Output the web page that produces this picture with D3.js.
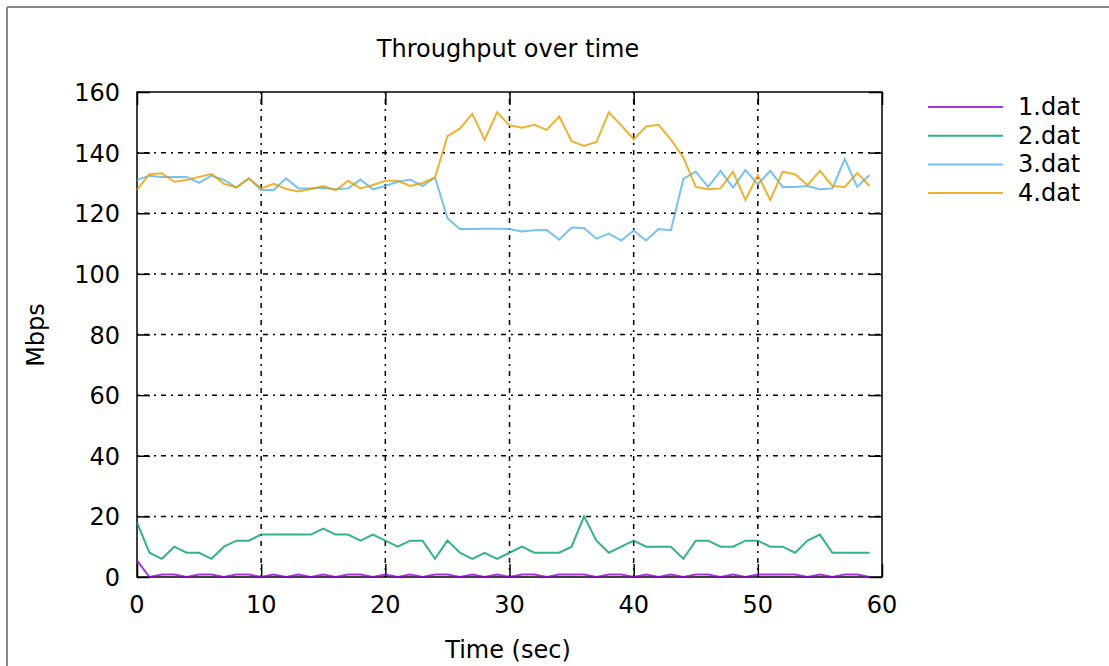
<!DOCTYPE html>
<html>
<head>
<meta charset="utf-8">
<script src="https://cdn.jsdelivr.net/npm/d3@7"></script>
<style>
  body { margin: 0; background: #fff; }
  svg { display: block; font-family: "DejaVu Sans", sans-serif; }
  .grid line { stroke: #000; stroke-width: 1.5; stroke-dasharray: 2,5,5,5; }
  .tick text { fill: #000; }
</style>
</head>
<body>
<div id="graphic"></div>
<script>
// time in seconds, one sample per second
const times = d3.range(0, 60);

const dat1 = [5.5, 0, 0.8, 0.8, 0, 0.8, 0.8, 0, 0.8, 0.8, 0, 0.8, 0, 0.8, 0, 0.8, 0, 0.8, 0.8, 0,
  0.8, 0, 0.8, 0, 0.8, 0.8, 0, 0.8, 0, 0.8, 0, 0.8, 0.8, 0, 0.8, 0.8, 0.8, 0, 0.8, 0.8,
  0, 0.8, 0, 0.8, 0, 0.8, 0.8, 0, 0.8, 0, 0.8, 0.8, 0.8, 0.8, 0, 0.8, 0, 0.8, 0.8, 0];
const dat2 = [18, 8, 6, 10, 8, 8, 6, 10, 12, 12, 14, 14, 14, 14, 14, 16, 14, 14, 12, 14,
  12, 10, 12, 12, 6, 12, 8, 6, 8, 6, 8, 10, 8, 8, 8, 10, 20, 12, 8, 10,
  12, 10, 10, 10, 6, 12, 12, 10, 10, 12, 12, 10, 10, 8, 12, 14, 8, 8, 8, 8];
const dat3 = [131, 132.4, 132, 132, 132, 130, 132.4, 131, 128.5, 131.5, 127.7, 127.7, 131.5, 128.2, 128.2, 128.4, 127.9, 128.2, 131.1, 127.9,
  129, 130.4, 131.1, 129, 131.8, 118.4, 114.8, 114.8, 114.9, 114.9, 114.8, 114, 114.4, 114.5, 111.3, 115.3, 115.1, 111.6, 113.3, 111,
  114.3, 111, 114.8, 114.4, 131.3, 133.7, 128.7, 134, 128.5, 134.2, 129.6, 134, 128.7, 128.7, 129, 127.9, 128.2, 137.9, 128.7, 132.6];
const dat4 = [127.7, 132.9, 133.2, 130.4, 131, 132, 132.9, 129.7, 128.5, 131.5, 128.2, 129.7, 128, 127.2, 128, 129, 127.6, 130.7, 128.2, 129.3,
  130.7, 130.7, 129, 130, 131.8, 145.4, 147.9, 152.8, 144.3, 153.3, 149, 148.2, 149.2, 147.5, 152, 143.8, 142.2, 143.5, 153.3, 149,
  144.4, 148.6, 149.2, 144.3, 138.4, 128.7, 127.9, 128.2, 133.7, 124.4, 132.6, 124.4, 133.7, 132.9, 129.3, 134, 129, 128.7, 133.3, 129];

const seriesNames = ['1.dat', '2.dat', '3.dat', '4.dat'];
const seriesColors = ['#9400d3', '#009e73', '#56b4e9', '#e69f00'];
const seriesValues = [dat1, dat2, dat3, dat4];

const xTicks = [0, 10, 20, 30, 40, 50, 60];
const yTicks = [0, 20, 40, 60, 80, 100, 120, 140, 160];

const width = 1109, height = 666;
const margin = { top: 92, right: 227, bottom: 89, left: 137 };
const innerW = width - margin.left - margin.right;
const innerH = height - margin.top - margin.bottom;
const fontSize = 24;

const svg = d3.select('#graphic').append('svg')
  .attr('width', width)
  .attr('height', height);

// outer frame (only top and left edges visible)
svg.append('line').attr('x1', 7).attr('x2', width).attr('y1', 7).attr('y2', 7)
  .attr('stroke', '#888').attr('stroke-width', 2);
svg.append('line').attr('x1', 7).attr('x2', 7).attr('y1', 7).attr('y2', height)
  .attr('stroke', '#888').attr('stroke-width', 2);

const x = d3.scaleLinear().domain([0, 60]).range([0, innerW]);
const y = d3.scaleLinear().domain([0, 160]).range([innerH, 0]);

const g = svg.append('g').attr('transform', 'translate(' + margin.left + ',' + margin.top + ')');

// grid
const grid = g.append('g').attr('class', 'grid');
grid.selectAll('.vg').data(xTicks.slice(1, -1)).join('line')
  .attr('x1', d => x(d)).attr('x2', d => x(d)).attr('y1', 0).attr('y2', innerH);
grid.selectAll('.hg').data(yTicks.slice(1, -1)).join('line')
  .attr('class', 'hg')
  .attr('x1', 0).attr('x2', innerW).attr('y1', d => y(d)).attr('y2', d => y(d));

// axes with inward ticks, mirrored
const tickLen = 13;
g.append('g').attr('transform', 'translate(0,' + innerH + ')')
  .call(d3.axisTop(x).tickValues(xTicks).tickSize(tickLen).tickFormat(''))
  .call(a => a.select('.domain').remove());
g.append('g')
  .call(d3.axisBottom(x).tickValues(xTicks).tickSize(tickLen).tickFormat(''))
  .call(a => a.select('.domain').remove());
g.append('g')
  .call(d3.axisRight(y).tickValues(yTicks).tickSize(tickLen).tickFormat(''))
  .call(a => a.select('.domain').remove());
g.append('g').attr('transform', 'translate(' + innerW + ',0)')
  .call(d3.axisLeft(y).tickValues(yTicks).tickSize(tickLen).tickFormat(''))
  .call(a => a.select('.domain').remove());
g.selectAll('.tick line').attr('stroke', '#000').attr('stroke-width', 1.5);

// tick labels
g.append('g').selectAll('text').data(xTicks).join('text')
  .attr('x', d => x(d)).attr('y', innerH + 36)
  .attr('text-anchor', 'middle')
  .attr('font-size', fontSize)
  .text(d => d);
g.append('g').selectAll('text').data(yTicks).join('text')
  .attr('x', -17).attr('y', d => y(d) + 9)
  .attr('text-anchor', 'end')
  .attr('font-size', fontSize)
  .text(d => d);

// frame
g.append('rect').attr('width', innerW).attr('height', innerH)
  .attr('fill', 'none').attr('stroke', '#000').attr('stroke-width', 1.5);

// lines
const line = d3.line().x((d, i) => x(times[i])).y(d => y(d));
g.append('g').selectAll('path').data(seriesValues).join('path')
  .attr('d', d => line(d))
  .attr('fill', 'none')
  .attr('stroke', (d, i) => seriesColors[i])
  .attr('stroke-opacity', 0.8)
  .attr('stroke-width', 2);

// titles
svg.append('text').attr('x', 508).attr('y', 57)
  .attr('text-anchor', 'middle').attr('font-size', fontSize)
  .text('Throughput over time');
svg.append('text').attr('x', 508).attr('y', 658)
  .attr('text-anchor', 'middle').attr('font-size', fontSize)
  .text('Time (sec)');
svg.append('text')
  .attr('transform', 'translate(44,335) rotate(-90)')
  .attr('text-anchor', 'middle').attr('font-size', fontSize)
  .text('Mbps');

// legend
const leg = svg.append('g').selectAll('g').data(seriesNames).join('g')
  .attr('transform', (d, i) => 'translate(928,' + (107 + i * 28.7) + ')');
leg.append('line').attr('x1', 0).attr('x2', 75)
  .attr('stroke', (d, i) => seriesColors[i])
  .attr('stroke-opacity', 0.8)
  .attr('stroke-width', 2);
leg.append('text').attr('x', 90).attr('y', 8)
  .attr('font-size', fontSize)
  .text(d => d);
</script>
</body>
</html>
